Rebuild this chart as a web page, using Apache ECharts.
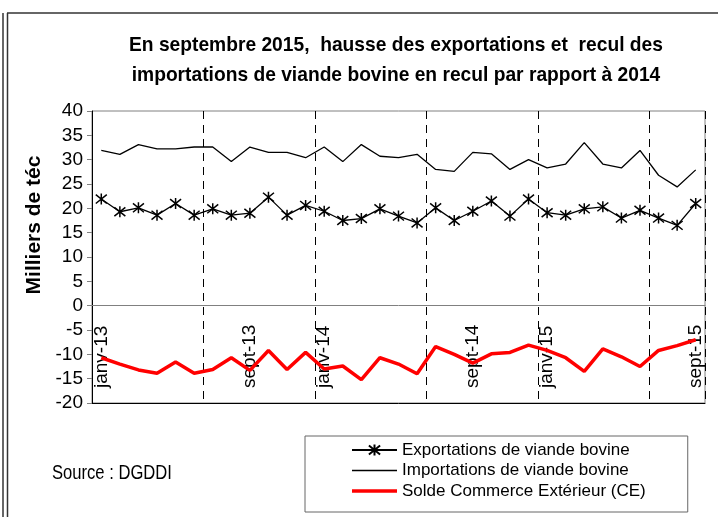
<!DOCTYPE html>
<html>
<head>
<meta charset="utf-8">
<script src="https://cdn.jsdelivr.net/npm/echarts@6/dist/echarts.min.js"></script>
<style>
html,body{margin:0;padding:0;background:#fff;}
#chart{width:718px;height:517px;}
</style>
</head>
<body>
<div id="chart"></div>
<script>
const months = ['janv-13','févr-13','mars-13','avr-13','mai-13','juin-13','juil-13','août-13','sept-13','oct-13','nov-13','déc-13',
  'janv-14','févr-14','mars-14','avr-14','mai-14','juin-14','juil-14','août-14','sept-14','oct-14','nov-14','déc-14',
  'janv-15','févr-15','mars-15','avr-15','mai-15','juin-15','juil-15','août-15','sept-15'];
const shownLabels = ['janv-13','sept-13','janv-14','sept-14','janv-15','sept-15'];
const exportsBovine = [21.9,19.3,20.1,18.6,21.0,18.6,19.9,18.6,19.0,22.3,18.6,20.6,19.4,17.5,17.9,19.9,18.4,17.0,20.1,17.5,19.4,21.5,18.4,21.9,19.1,18.6,19.9,20.3,18.0,19.6,18.0,16.5,21.0];
const importsBovine = [31.9,31.1,33.1,32.2,32.2,32.6,32.6,29.6,32.6,31.5,31.5,30.4,32.6,29.6,33.1,30.7,30.4,31.1,28.0,27.6,31.5,31.2,28.0,30.0,28.3,29.1,33.5,29.1,28.3,31.9,26.8,24.4,27.9];
const soldeCE = [-10.7,-12.0,-13.2,-13.9,-11.6,-13.9,-13.1,-10.7,-13.3,-9.2,-13.1,-9.6,-13.0,-12.4,-15.2,-10.7,-12.0,-14.0,-8.4,-10.0,-11.8,-9.9,-9.6,-8.1,-9.2,-10.7,-13.5,-8.9,-10.5,-12.5,-9.2,-8.2,-7.0];
const yTicks = {min:-20, max:40, step:5};
const seriesNames = ['Exportations de viande bovine','Importations de viande bovine','Solde Commerce Extérieur (CE)'];
const titleText = 'En septembre 2015,  hausse des exportations et  recul des\nimportations de viande bovine en recul par rapport à 2014';
const sourceText = 'Source : DGDDI';

const REG = "'Liberation Sans',Arial,sans-serif";
const star = 'path://M1,1L9,9M9,1L1,9M5,0L5,10';

const chart = echarts.init(document.getElementById('chart'), null, {renderer:'canvas'});
chart.setOption({
  animation:false,
  backgroundColor:'#fff',
  grid:{left:92, right:13, top:111, bottom:114, show:true, borderColor:'#808080', borderWidth:1, containLabel:false},
  legend:{
    orient:'vertical', left:305, top:436,
    padding:[4,42,11,46],
    borderColor:'#666', borderWidth:1,
    itemWidth:45, itemHeight:14, itemGap:0.5,
    textStyle:{fontFamily:REG, fontSize:17, lineHeight:20, color:'#000'},
    data:[
      {name:seriesNames[0]},
      {name:seriesNames[1], icon:'path://M0,0H45V1.3H0Z'},
      {name:seriesNames[2], icon:'path://M0,0H45V3.5H0Z'}
    ]
  },
  xAxis:[{
    type:'category', data:months, boundaryGap:true, position:'bottom',
    axisLine:{onZero:false, lineStyle:{color:'#000', width:1}},
    axisTick:{show:false},
    axisLabel:{inside:true, rotate:90, margin:15, fontFamily:REG, fontSize:19, color:'#000',
      interval:(i, v)=>shownLabels.includes(v)},
    splitLine:{show:true, interval:(i)=>i%6===0, lineStyle:{color:'#000', type:[8,6], width:1}}
  },{
    type:'category', data:months, boundaryGap:true,
    axisLine:{onZero:true, lineStyle:{color:'#808080', width:1}},
    axisTick:{show:false}, axisLabel:{show:false}, splitLine:{show:false}
  }],
  yAxis:{
    type:'value', min:yTicks.min, max:yTicks.max, interval:yTicks.step,
    axisLine:{show:true, lineStyle:{color:'#000'}},
    axisTick:{show:true, length:5, lineStyle:{color:'#808080'}},
    axisLabel:{margin:9, fontFamily:REG, fontSize:19, color:'#000'},
    splitLine:{show:false},
    name:'Milliers de téc', nameLocation:'middle', nameGap:42,
    nameTextStyle:{fontFamily:REG, fontWeight:'bold', fontSize:21, color:'#000', padding:[0,0,0,64]}
  },
  series:[
    {name:seriesNames[0], type:'line', data:exportsBovine, symbol:star, symbolSize:11, showAllSymbol:true,
      lineStyle:{color:'#000', width:1.3}, itemStyle:{color:'#000', borderColor:'#000', borderWidth:1.5}, z:3},
    {name:seriesNames[1], type:'line', data:importsBovine, symbol:'none',
      lineStyle:{color:'#000', width:1.3}, itemStyle:{color:'#000'}, z:3},
    {name:seriesNames[2], type:'line', data:soldeCE, symbol:'none',
      lineStyle:{color:'#ff0000', width:3.5}, itemStyle:{color:'#ff0000'}, z:3}
  ],
  graphic:[
    {type:'line', shape:{x1:3, y1:13, x2:3, y2:517}, style:{stroke:'#333', lineWidth:1.5}},
    {type:'line', shape:{x1:7.5, y1:13, x2:7.5, y2:517}, style:{stroke:'#333', lineWidth:1.5}},
    {type:'line', shape:{x1:7, y1:13, x2:718, y2:13}, style:{stroke:'#333', lineWidth:1.5}},
    {type:'text', x:396, y:30, scaleX:0.915,
      style:{text:titleText, x:0, y:0, align:'center', verticalAlign:'top', fontFamily:REG, fontWeight:'bold', fontSize:21, lineHeight:30, fill:'#000'}},
    {type:'text', x:52, y:463, scaleX:0.83,
      style:{text:sourceText, x:0, y:0, align:'left', verticalAlign:'top', fontFamily:REG, fontSize:20, fill:'#000'}}
  ]
});
</script>
</body>
</html>
